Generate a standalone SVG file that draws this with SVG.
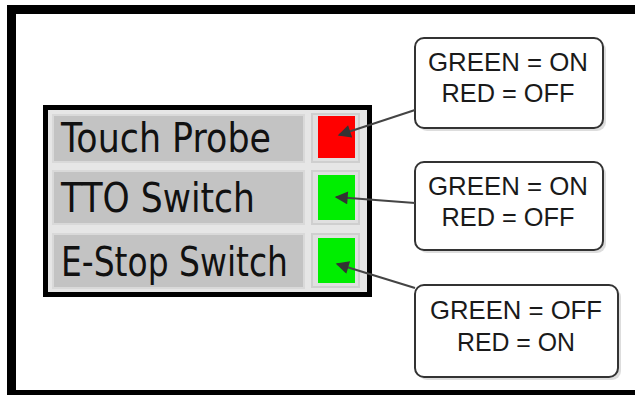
<svg xmlns="http://www.w3.org/2000/svg" width="635" height="395" viewBox="0 0 635 395">
<style>
.frame{fill:#fff;stroke:#000;stroke-width:9}
.panel{fill:#e6e6e6;stroke:#000;stroke-width:5}
.lbl{fill:#c3c3c3;stroke:#d9d9d9;stroke-width:2}
.cell{fill:#e0e0e0;stroke:#cfcfcf;stroke-width:2}
.ltxt{font-family:"DejaVu Sans","Liberation Sans",sans-serif;font-size:40px;fill:#111}
.call{fill:#fff;stroke:#333;stroke-width:2}
.shadow{fill:#bbb;opacity:0.5}
.ctxt{font-family:"Liberation Sans",Arial,sans-serif;font-size:25px;fill:#1a1a1a;text-anchor:middle}
.conn{stroke:#444;stroke-width:2;fill:none}
</style>
<defs>
<marker id="ah" viewBox="0 0 10 10" refX="9" refY="5" markerWidth="16" markerHeight="13" markerUnits="userSpaceOnUse" orient="auto">
<path d="M0,0 L10,5 L0,10 z" fill="#333"/>
</marker>
</defs>
<rect class="frame" x="11.5" y="9.5" width="640" height="385"/>
<g id="panel">
<rect class="panel" x="45.5" y="107.5" width="324" height="187"/>
</g>
<g id="touch-probe">
<rect class="lbl" x="53" y="115" width="251" height="47"/>
<text class="ltxt" x="61" y="152" textLength="210" lengthAdjust="spacingAndGlyphs">Touch Probe</text>
<rect class="cell" x="312" y="114" width="47" height="48"/>
<rect x="318" y="116" width="37" height="42" fill="#ff0000"/>
</g>
<g id="tto-switch">
<rect class="lbl" x="53" y="171" width="251" height="53"/>
<text class="ltxt" x="61" y="212" textLength="194" lengthAdjust="spacingAndGlyphs">TTO Switch</text>
<rect class="cell" x="312" y="171" width="47" height="53"/>
<rect x="318" y="175" width="37" height="45" fill="#00ee00"/>
</g>
<g id="estop-switch">
<rect class="lbl" x="53" y="234" width="251" height="54"/>
<text class="ltxt" x="61" y="276" textLength="227" lengthAdjust="spacingAndGlyphs">E-Stop Switch</text>
<rect class="cell" x="312" y="234" width="47" height="53"/>
<rect x="318" y="238" width="37" height="45" fill="#00ee00"/>
</g>
<g id="callout1">
<rect class="shadow" x="418" y="41" width="188" height="90" rx="9"/>
<rect class="call" x="415" y="38" width="188" height="90" rx="9"/>
<text class="ctxt" x="508" y="71" textLength="160" lengthAdjust="spacingAndGlyphs">GREEN = ON</text>
<text class="ctxt" x="508" y="102" textLength="133" lengthAdjust="spacingAndGlyphs">RED = OFF</text>
</g>
<g id="callout2">
<rect class="shadow" x="418" y="165" width="188" height="88" rx="9"/>
<rect class="call" x="415" y="162" width="188" height="88" rx="9"/>
<text class="ctxt" x="508" y="195" textLength="160" lengthAdjust="spacingAndGlyphs">GREEN = ON</text>
<text class="ctxt" x="508" y="226" textLength="133" lengthAdjust="spacingAndGlyphs">RED = OFF</text>
</g>
<g id="callout3">
<rect class="shadow" x="418" y="288" width="203" height="92" rx="9"/>
<rect class="call" x="415" y="285" width="203" height="92" rx="9"/>
<text class="ctxt" x="516" y="319" textLength="172" lengthAdjust="spacingAndGlyphs">GREEN = OFF</text>
<text class="ctxt" x="516" y="351" textLength="118" lengthAdjust="spacingAndGlyphs">RED = ON</text>
</g>
<g id="connectors">
<line class="conn" x1="415" y1="110" x2="339" y2="135" marker-end="url(#ah)"/>
<line class="conn" x1="415" y1="203" x2="336" y2="197" marker-end="url(#ah)"/>
<line class="conn" x1="415" y1="288" x2="337" y2="264" marker-end="url(#ah)"/>
</g>
</svg>
